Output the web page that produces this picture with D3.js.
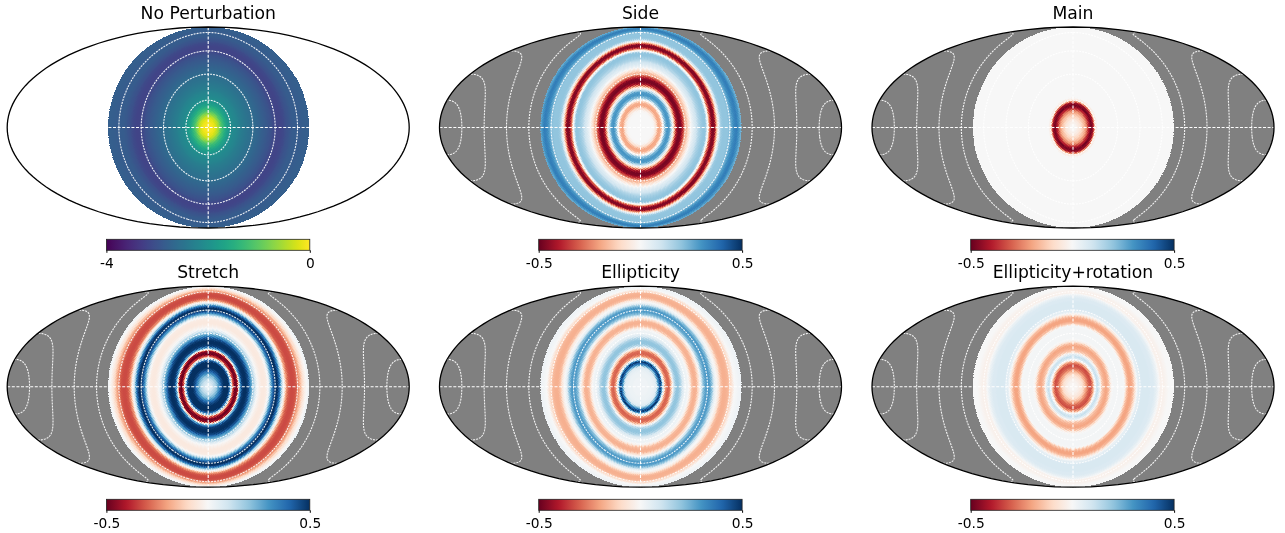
<!DOCTYPE html>
<html><head><meta charset="utf-8">
<script src="https://cdn.jsdelivr.net/npm/d3@7"></script>
<style>
html,body{margin:0;padding:0;background:#fff;width:1285px;height:533px;overflow:hidden}
canvas,svg{position:absolute;left:0;top:0}
text{font-family:"DejaVu Sans",sans-serif;fill:#000}
</style></head><body>
<canvas id="map" width="1285" height="533"></canvas>
<svg id="chart" width="1285" height="533"></svg>
<script>
// Radial profiles: one value per angle from the disc centre.
const angles = [0,2,4,6,8,10,12,14,16,18,20,22,24,26,28,30,32,34,36,38,40,42,44,46,48,50,52,54,56,58,60,62,64,66,68,70,72,74,76,78,80,82,84,86,88,90];
const noPerturbation = [-0.02,-0.03,-0.08,-0.18,-0.4,-0.75,-1.15,-1.4,-1.65,-1.85,-2,-2.1,-2.15,-2.2,-2.3,-2.35,-2.4,-2.45,-2.5,-2.55,-2.6,-2.65,-2.7,-2.75,-2.8,-2.85,-2.9,-2.95,-3,-3.1,-3.15,-3.2,-3.2,-3.15,-3.1,-3,-2.95,-2.9,-2.85,-2.85,-2.85,-2.85,-2.83,-2.82,-2.8,-2.8];
const side = [0,0,0,0,0,0,-0.01,-0.08,-0.2,-0.18,-0.03,0.22,0.3,0.28,0.1,-0.12,-0.4,-0.48,-0.47,-0.35,-0.2,-0.12,-0.04,0.03,0.07,0.1,0.15,0.18,0.2,0.2,0.05,-0.3,-0.47,-0.46,-0.2,0.05,0.18,0.2,0.2,0.2,0.22,0.28,0.33,0.35,0.3,0.24];
const mainLobe = [0,-0.01,-0.03,-0.06,-0.11,-0.16,-0.24,-0.38,-0.49,-0.42,-0.06,0,0,0,0,0,0,0,0,0,0,0,0,0,0,0,0,0,0,0,0,0,0,0,0,0,0,0,0,0,0,0,0,0,0,0];
const stretch = [0.04,0.06,0.1,0.15,0.22,0.33,0.44,0.5,0.5,0.5,0.3,-0.3,-0.5,-0.45,0.2,0.47,0.5,0.5,0.45,0.3,0.2,0.08,0,-0.03,-0.05,-0.05,-0.04,0.02,0.22,0.4,0.5,0.5,0.38,0.12,-0.03,-0.22,-0.31,-0.33,-0.33,-0.32,-0.26,-0.18,-0.1,-0.04,0,0.03];
const ellipticity = [0.02,0.02,0.02,0.02,0.03,0.03,0.04,0.06,0.3,0.5,0.15,-0.2,-0.3,-0.28,-0.1,0.12,0.2,0.2,0.15,0.06,0.03,0.02,-0.03,-0.15,-0.18,-0.17,-0.08,0.03,0.2,0.27,0.3,0.28,0.2,0.05,0,-0.05,-0.15,-0.18,-0.18,-0.17,-0.13,-0.06,0,0.01,0.02,0.02];
const ellipticityRotation = [-0.01,-0.01,-0.02,-0.04,-0.07,-0.13,-0.22,-0.3,-0.33,-0.2,0.05,0.12,0.04,-0.13,-0.18,-0.2,-0.15,-0.02,0.01,0.01,0.01,0.01,0.01,0.005,-0.14,-0.2,-0.2,-0.15,-0.04,0.04,0.07,0.08,0.08,0.08,0.08,0.07,0.07,0.05,0.02,-0.02,-0.03,-0.02,-0.01,0,0,0];

const titles = ["No Perturbation","Side","Main","Stretch","Ellipticity","Ellipticity+rotation"];
const profiles = [noPerturbation,side,mainLobe,stretch,ellipticity,ellipticityRotation];
const rangeViridis = [-4,0];
const rangeRdBu = [-0.5,0.5];
const ringAngles = [20,40,60,80,100,120,140,160];
const centersX = [208.2,640.5,1073];
const centersY = [127.5,386.7];
const barLeft = [106.4,538.7,970.7];
const barTop = [239.3,499.3];
const NSIDE = 64;

const rdbu = d3.scaleLinear()
  .domain(d3.range(11).map(i => -0.5 + i/10))
  .range(d3.schemeRdBu[11]).clamp(true);
const viridis = d3.scaleSequential(d3.interpolateViridis).domain(rangeViridis).clamp(true);

// Mollweide raw projection for d3.geoProjection
function mollRaw(l, p){
  let t = p;
  const k = Math.PI*Math.sin(p);
  if (Math.abs(Math.abs(p)-Math.PI/2) > 1e-6){
    for (let i=0;i<30;i++){
      const d = (t+Math.sin(t)-k)/(1+Math.cos(t));
      t -= d;
      if (Math.abs(d)<1e-8) break;
    }
    t /= 2;
  }
  return [2*Math.SQRT2/Math.PI*l*Math.cos(t), Math.SQRT2*Math.sin(t)];
}
mollRaw.invert = function(x,y){
  const t = Math.asin(Math.max(-1,Math.min(1,y/Math.SQRT2)));
  return [x*Math.PI/(2*Math.SQRT2*Math.cos(t)),
          Math.asin(Math.max(-1,Math.min(1,(2*t+Math.sin(2*t))/Math.PI)))];
};

// Centre of the HEALPix pixel holding a point, so the map has the same pixel grain
function healpixCentre(lon, lat){
  const z = Math.sin(lat), za = Math.abs(z);
  let phi = lon; if (phi<0) phi += 2*Math.PI; if (phi>=2*Math.PI) phi -= 2*Math.PI;
  const tt = phi/(Math.PI/2);
  if (za <= 2/3){
    const a = NSIDE*(0.5+tt), b = NSIDE*z*0.75;
    const u = Math.floor(a-b)+0.5, v = Math.floor(a+b)+0.5;
    return [((u+v)/2/NSIDE-0.5)*Math.PI/2, (v-u)/(2*NSIDE*0.75)];
  }
  const nt = Math.min(3,Math.floor(tt)), tp = tt-nt;
  const tmp = NSIDE*Math.sqrt(3*(1-za));
  const jp = Math.min(Math.floor(tp*tmp),NSIDE-1), jm = Math.min(Math.floor((1-tp)*tmp),NSIDE-1);
  const i = jp+jm+1;
  const zc = (1-i*i/(3*NSIDE*NSIDE))*(z<0?-1:1);
  return [(nt+(jp+0.5)/i)*Math.PI/2, zc];
}

const W = 402, H = 201;
const ctxMain = document.getElementById("map").getContext("2d");
const svg = d3.select("#chart");
const defs = svg.append("defs");

titles.forEach((title, idx) => {
  const col = idx%3, row = Math.floor(idx/3);
  const cx = centersX[col], cy = centersY[row];
  const isFirst = idx===0;
  const color = isFirst ? viridis : rdbu;
  const projection = d3.geoProjection(mollRaw).scale(201/(2*Math.SQRT2)).translate([cx,cy]).precision(0.1);
  const path = d3.geoPath(projection);
  const radial = d3.scaleLinear().domain(angles).range(profiles[idx]);

  // raster of the map
  const off = document.createElement("canvas");
  off.width = 1285; off.height = 533;
  const oc = off.getContext("2d");
  oc.fillStyle = isFirst ? "#ffffff" : "#808080";
  oc.fillRect(Math.floor(cx-W/2)-2, Math.floor(cy-H/2)-2, W+4, H+4);
  for (let py=Math.floor(cy-H/2); py<=cy+H/2; py++){
    for (let px=Math.floor(cx-110); px<=cx+110; px++){
      const ll = projection.invert([px+0.5,py+0.5]);
      if (!ll || !isFinite(ll[0]) || !isFinite(ll[1])) continue;
      const lon = ll[0]*Math.PI/180, lat = ll[1]*Math.PI/180;
      if (Math.abs(lon)>Math.PI/2+0.1) continue;
      const c = healpixCentre(lon, lat);
      const cosT = Math.sqrt(1-c[1]*c[1])*Math.cos(c[0]);
      const theta = Math.acos(Math.max(-1,Math.min(1,cosT)))*180/Math.PI;
      if (theta>90) continue;
      oc.fillStyle = color(radial(theta));
      oc.fillRect(px,py,1,1);
    }
  }
  ctxMain.save();
  ctxMain.beginPath();
  d3.geoPath(projection, ctxMain)({type:"Sphere"});
  ctxMain.clip();
  ctxMain.filter = "blur(0.6px)";
  ctxMain.drawImage(off,0,0);
  ctxMain.restore();

  const g = svg.append("g");
  // graticule
  const circle = d3.geoCircle().center([0,0]).precision(1);
  const lines = ringAngles.map(r => ({type:"LineString", coordinates: circle.radius(r)().coordinates[0]}));
  g.selectAll("path.ring").data(lines).join("path").attr("class","ring")
    .attr("d",path).attr("fill","none").attr("stroke","#fff")
    .attr("stroke-width",1.1).attr("stroke-dasharray","2 1").attr("stroke-opacity",0.9);
  const axes = [
    {type:"LineString",coordinates:[[-179.99,0],[-90,0],[0,0],[90,0],[179.99,0]]},
    {type:"LineString",coordinates:[[0,-89.99],[0,0],[0,89.99]]}
  ];
  g.selectAll("path.axis0").data(axes).join("path").attr("class","axis0")
    .attr("d",path).attr("fill","none").attr("stroke","#fff")
    .attr("stroke-width",1.1).attr("stroke-dasharray","3 1.6");
  g.append("path").datum({type:"Sphere"}).attr("d",path)
    .attr("fill","none").attr("stroke","#000").attr("stroke-width",1.3);

  g.append("text").attr("x",cx).attr("y",cy-108.9).attr("text-anchor","middle")
    .attr("font-size","17.2px").text(title);

  // colour bar
  const dom = isFirst ? rangeViridis : rangeRdBu;
  const bx = barLeft[col], by = barTop[row], bw = 203.4, bh = 11;
  const barScale = d3.scaleLinear().domain(dom).range([bx,bx+bw]);
  const gid = "grad"+idx;
  const grad = defs.append("linearGradient").attr("id",gid);
  d3.range(0,65).forEach(i => {
    const t = i/64;
    grad.append("stop").attr("offset",t).attr("stop-color",color(dom[0]+t*(dom[1]-dom[0])));
  });
  g.append("rect").attr("x",bx).attr("y",by).attr("width",bw).attr("height",bh)
    .attr("fill",`url(#${gid})`).attr("stroke","#222").attr("stroke-width",0.8);
  const axis = d3.axisBottom(barScale).tickValues(dom).tickSize(2.5).tickPadding(5.3)
    .tickFormat(d => String(d));
  const ag = g.append("g").attr("transform",`translate(0,${by+bh})`).call(axis);
  ag.select(".domain").remove();
  ag.selectAll("text").attr("font-size","13.8px").attr("font-family",'"DejaVu Sans",sans-serif').attr("fill","#000");
});
</script>
</body></html>
